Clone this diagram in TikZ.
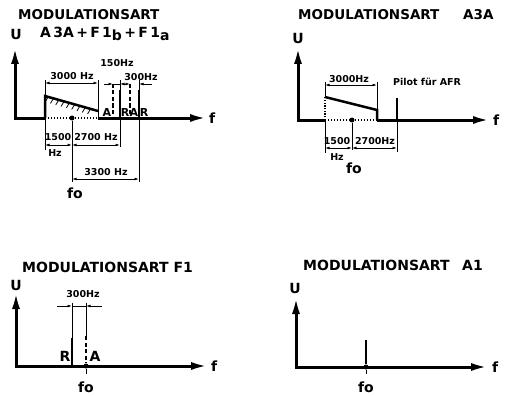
\documentclass[tikz,border=0pt]{standalone}
\usepackage{fontspec}
\setmainfont{DejaVu Sans}
\usetikzlibrary{arrows.meta,calc}
\begin{document}
\begin{tikzpicture}[x=1pt,y=-1pt,
  axtip/.tip={Latex[length=17pt,width=8pt]},
  dimtip/.tip={Latex[length=4.5pt,width=2.8pt]},
  axline/.style={line width=3pt},
  dotaxis/.style={line width=2.4pt,dash pattern=on 1.4pt off 1.6pt},
  specline/.style={line width=2.5pt},
  specdash/.style={line width=2.5pt,dash pattern=on 4pt off 2.5pt},
  thinline/.style={line width=0.8pt},
  dimline/.style={line width=0.8pt,dimtip-dimtip},
  title/.style={inner sep=0pt,anchor=west,font=\fontsize{13.5}{13.5}\selectfont\bfseries},
  titleb/.style={inner sep=0pt,anchor=west,font=\fontsize{14}{14}\selectfont\bfseries},
  big/.style={inner sep=0pt,font=\fontsize{14}{14}\selectfont\bfseries},
  lett/.style={inner sep=0pt,font=\fontsize{11}{11}\selectfont\bfseries},
  small/.style={inner sep=0pt,font=\fontsize{9.5}{9.5}\selectfont\bfseries},
  fdot/.style={circle,fill,inner sep=0pt,minimum size=5pt}
]
\useasboundingbox[fill=white] (0,0) rectangle (509,396);

%================ Panel 1 =================
\node[title] (ti1) at (18,15) {MODULATIONSART};
\node[big] (u1) at (16,34) {U};
\node[big,anchor=west] (ty1) at (40,34) {A\,3A\,+\,F\,1\raisebox{-3pt}{b}\,+\,F\,1\raisebox{-3pt}{a}};
\coordinate (O1) at (15,118);
\coordinate (Y1) at (15,47);
\coordinate (X1) at (207,118);
\coordinate (p1a) at (45,118);
\coordinate (p1b) at (45,96);
\coordinate (p1c) at (98,111);
\coordinate (p1d) at (98,118);
\draw[axline,axtip-] (Y1) -- (O1) -- (p1a);
\draw[dotaxis] (p1a) -- (p1d);
\draw[axline,-axtip] (p1d) -- (X1);
\node[big,anchor=west] (f1) at (209,118) {f};
% trapezoid
\draw[specline] (p1a) -- (p1b) -- (p1c);
\draw[thinline] (p1c) -- (p1d);
\foreach \t in {0.06,0.16,...,0.96}{
  \draw[thinline] ($(p1b)!\t!(p1c)$) -- ++(-3,5);
}
% 3000 Hz
\coordinate (e1a) at (45,80);
\coordinate (e1b) at (98,80);
\draw[thinline] (p1b) -- (e1a);
\draw[thinline] (p1c) -- (e1b);
\coordinate (d1a) at (45,83);
\coordinate (d1b) at (98,83);
\draw[dimline] (d1a) -- (d1b);
\node[small] (l3000a) at (72,76) {3000 Hz};
% spectral lines
\coordinate (a1t) at (113,84);  \coordinate (a1b) at (113,118);
\coordinate (r1t) at (120,90);  \coordinate (r1b) at (120,118);
\coordinate (a2t) at (130,84);  \coordinate (a2b) at (130,118);
\coordinate (r2t) at (139,90);  \coordinate (r2b) at (139,118);
\coordinate (r1e) at (120,80);  \coordinate (r2e) at (139,80);
\draw[specdash] (a1t) -- (a1b);
\draw[specdash] (a2t) -- (a2b);
\draw[specline] (r1t) -- (r1b);
\draw[specline] (r2t) -- (r2b);
\draw[thinline] (r1e) -- (r1t);
\draw[thinline] (r2e) -- (r2t);
\node[lett] (la1) at (107,112) {A};
\node[lett] (lr1) at (125,112) {R};
\node[lett] (la2) at (134,112) {A};
\node[lett] (lr2) at (144,112) {R};
% 150 / 300 Hz
\coordinate (h1) at (104,84); \coordinate (h2) at (113,84);
\coordinate (h3) at (120,84); \coordinate (h4) at (126,84);
\coordinate (h5) at (130,84); \coordinate (h6) at (139,84);
\coordinate (h7) at (152,84);
\draw[thinline,-dimtip] (h1) -- (h2);
\draw[thinline,-dimtip] (h4) -- (h3);
\draw[thinline] (h2) -- (h3);
\draw[thinline,-dimtip] (h4) -- (h5);
\draw[thinline,-dimtip] (h7) -- (h6);
\node[small] (l150) at (117,63) {150Hz};
\node[small] (l300a) at (141,77) {300Hz};
% lower dimensions
\node[fdot] (fo1) at (72,118) {};
\coordinate (x1a) at (45,150);
\coordinate (x1f) at (72,182);
\coordinate (x1r) at (120,147);
\coordinate (x1s) at (139,182);
\draw[thinline] (p1a) -- (x1a);
\draw[thinline] (fo1) -- (x1f);
\draw[thinline] (r1b) -- (x1r);
\draw[thinline] (r2b) -- (x1s);
\coordinate (g1) at (45,145); \coordinate (g2) at (72,145); \coordinate (g3) at (120,145);
\draw[dimline] (g1) -- (g2);
\draw[dimline] (g2) -- (g3);
\coordinate (k1) at (72,179); \coordinate (k2) at (139,179);
\draw[dimline] (k1) -- (k2);
\node[small] (l1500a) at (58,137) {1500};
\node[small] (lhza) at (55,153) {Hz};
\node[small] (l2700a) at (96,137) {2700 Hz};
\node[small] (l3300) at (106,172) {3300 Hz};
\node[big] (lfo1) at (75,193) {fo};

%================ Panel 2 =================
\node[title] (ti2) at (298,15) {MODULATIONSART};
\node[title] (ti2b) at (463,15) {A3A};
\node[big] (u2) at (298,38) {U};
\coordinate (O2) at (298,120);
\coordinate (Y2) at (298,47);
\coordinate (X2) at (490,120);
\coordinate (p2a) at (325,120);
\coordinate (p2b) at (325,97);
\coordinate (p2c) at (377,110);
\coordinate (p2d) at (377,120);
\draw[axline,axtip-] (Y2) -- (O2) -- (p2a);
\draw[dotaxis] (p2a) -- (p2d);
\draw[axline,-axtip] (p2d) -- (X2);
\node[big,anchor=west] (f2) at (493,120) {f};
\draw[line width=1.2pt,dash pattern=on 1.2pt off 1.5pt] (p2a) -- (p2b);
\draw[specline] (p2b) -- (p2c) -- (p2d);
\coordinate (e2a) at (325,82);
\coordinate (e2b) at (377,82);
\draw[thinline] (p2b) -- (e2a);
\draw[thinline] (p2c) -- (e2b);
\coordinate (d2a) at (325,85);
\coordinate (d2b) at (377,85);
\draw[dimline] (d2a) -- (d2b);
\node[small] (l3000b) at (349,79) {3000Hz};
% pilot
\coordinate (pl1) at (397,98);
\coordinate (pl2) at (397,120);
\coordinate (pl3) at (397,152);
\draw[specline] (pl1) -- (pl2);
\draw[thinline] (pl2) -- (pl3);
\node[small] (lpilot) at (427,82) {Pilot für AFR};
% lower dims
\node[fdot] (fo2) at (352,120) {};
\coordinate (x2a) at (325,153);
\coordinate (x2f) at (352,150);
\draw[thinline] (p2a) -- (x2a);
\draw[thinline] (fo2) -- (x2f);
\coordinate (m1) at (325,148); \coordinate (m2) at (352,148); \coordinate (m3) at (397,148);
\draw[dimline] (m1) -- (m2);
\draw[dimline] (m2) -- (m3);
\node[small] (l1500b) at (337,141) {1500};
\node[small] (lhzb) at (337,157) {Hz};
\node[small] (l2700b) at (375,141) {2700Hz};
\node[big] (lfo2) at (354,168) {fo};

%================ Panel 3 =================
\node[titleb] (ti3) at (22,267) {MODULATIONSART F1};
\node[big] (u3) at (16,285) {U};
\coordinate (O3) at (16,366);
\coordinate (Y3) at (16,292);
\coordinate (X3) at (208,366);
\draw[axline,axtip-axtip] (Y3) -- (O3) -- (X3);
\node[big,anchor=west] (f3) at (211,366) {f};
\coordinate (r3t) at (72,338); \coordinate (r3b) at (72,366); \coordinate (r3e) at (72,303);
\coordinate (a3t) at (86,336); \coordinate (a3e) at (86,303);
\node[fdot] (fo3) at (86,366) {};
\coordinate (a3d) at (86,374);
\draw[specline] (r3t) -- (r3b);
\draw[thinline] (r3e) -- (r3t);
\draw[specdash] (a3t) -- (fo3);
\draw[thinline] (a3e) -- (a3t);
\draw[thinline] (fo3) -- (a3d);
\coordinate (n1) at (57,306); \coordinate (n2) at (72,306);
\coordinate (n3) at (86,306); \coordinate (n4) at (102,306);
\draw[thinline,-dimtip] (n1) -- (n2);
\draw[thinline] (n2) -- (n3);
\draw[thinline,-dimtip] (n4) -- (n3);
\node[small] (l300b) at (83,294) {300Hz};
\node[big] (lr3) at (65,356) {R};
\node[big] (la3) at (95,356) {A};
\node[big] (lfo3) at (86,387) {fo};

%================ Panel 4 =================
\node[titleb] (ti4) at (303,265) {MODULATIONSART};
\node[titleb] (ti4b) at (462,265) {A1};
\node[big] (u4) at (295,288) {U};
\coordinate (O4) at (296,367);
\coordinate (Y4) at (296,297);
\coordinate (X4) at (488,367);
\draw[axline,axtip-axtip] (Y4) -- (O4) -- (X4);
\node[big,anchor=west] (f4) at (492,367) {f};
\coordinate (c4t) at (366,340);
\node[fdot] (fo4) at (366,367) {};
\coordinate (c4d) at (366,374);
\draw[specline] (c4t) -- (fo4);
\draw[thinline] (fo4) -- (c4d);
\node[big] (lfo4) at (366,387) {fo};
\end{tikzpicture}
\end{document}
